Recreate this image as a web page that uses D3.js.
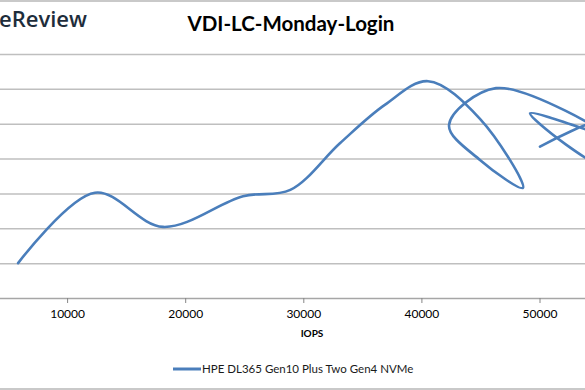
<!DOCTYPE html>
<html><head><meta charset="utf-8">
<script src="https://cdn.jsdelivr.net/npm/d3@7"></script>
<style>
html,body{margin:0;padding:0;background:#fff;overflow:hidden;}
svg{display:block;}
</style></head>
<body>
<svg id="c" width="585" height="390"></svg>
<script>
const title = "VDI-LC-Monday-Login";
const xLabel = "IOPS";
const seriesName = "HPE DL365 Gen10 Plus Two Gen4 NVMe";
const iops    = [5850, 12360, 18120, 24900, 28900, 33100, 36900, 40560, 44960, 48600, 44960, 42340, 46320, 56140, 49200, 56140, 56140, 50040];
const latency = [0.50, 1.51, 1.02, 1.46, 1.55, 2.22, 2.77, 3.11, 2.57, 1.58, 1.98, 2.48, 3.01, 2.30, 2.65, 1.86, 2.55, 2.17];
const xTicks = [10000, 20000, 30000, 40000, 50000];
const yTicks = [0.5, 1, 1.5, 2, 2.5, 3, 3.5];

const svg = d3.select("#c");
const x = d3.scaleLinear().domain([0, 60000]).range([-51, 657.6]);
const y = d3.scaleLinear().domain([0, 3.5]).range([298, 54]);

// outer border
svg.append("rect").attr("x", -5).attr("y", 1).attr("width", 595).attr("height", 388)
  .attr("fill", "none").attr("stroke", "#a6a6a6").attr("stroke-width", 1.2);

// gridlines
const gy = svg.append("g").attr("transform", "translate(-51,0)")
  .call(d3.axisLeft(y).tickValues(yTicks).tickSize(-720).tickFormat(""));
gy.select(".domain").remove();
gy.selectAll(".tick line").attr("stroke", "#bfbfbf").attr("stroke-width", 1.5);

// x axis
const gx = svg.append("g").attr("transform", "translate(0,298)")
  .call(d3.axisBottom(x).tickValues(xTicks).tickSize(5).tickSizeOuter(0).tickPadding(6).tickFormat(d => String(d)));
gx.select(".domain").attr("stroke", "#a6a6a6").attr("stroke-width", 1.5);
gx.selectAll(".tick line").attr("stroke", "#868686");
gx.selectAll(".tick text").attr("font-family", "Lato, 'Open Sans', sans-serif")
  .attr("font-size", 12).attr("fill", "#000");

// line
const line = d3.line().x((d, i) => x(iops[i])).y((d, i) => y(latency[i]))
  .curve(d3.curveCatmullRom.alpha(0.5));
svg.append("path").datum(iops).attr("d", line)
  .attr("fill", "none").attr("stroke", "#4a7ebb").attr("stroke-width", 2.6)
  .attr("stroke-linejoin", "round").attr("stroke-linecap", "round");

// title
svg.append("text").attr("x", 291).attr("y", 31).attr("text-anchor", "middle")
  .attr("font-family", "Lato, 'Open Sans', sans-serif").attr("font-weight", "bold")
  .attr("font-size", 20.5).attr("fill", "#000").text(title);

// logo fragment
svg.append("text").attr("x", -1).attr("y", 27)
  .attr("font-family", "'Open Sans', Lato, sans-serif").attr("font-weight", 600)
  .attr("font-size", 22).attr("fill", "#1e2d3b").text("eReview");

// x label
svg.append("text").attr("x", 312).attr("y", 337).attr("text-anchor", "middle")
  .attr("font-family", "Lato, 'Open Sans', sans-serif").attr("font-weight", "bold")
  .attr("font-size", 10).attr("fill", "#000").text(xLabel);

// legend
svg.append("line").attr("x1", 173).attr("x2", 201).attr("y1", 369).attr("y2", 369)
  .attr("stroke", "#4a7ebb").attr("stroke-width", 3);
svg.append("text").attr("x", 202).attr("y", 373)
  .attr("font-family", "Lato, 'Open Sans', sans-serif")
  .attr("font-size", 11.5).attr("fill", "#1a1a1a").text(seriesName);
</script>
</body></html>
